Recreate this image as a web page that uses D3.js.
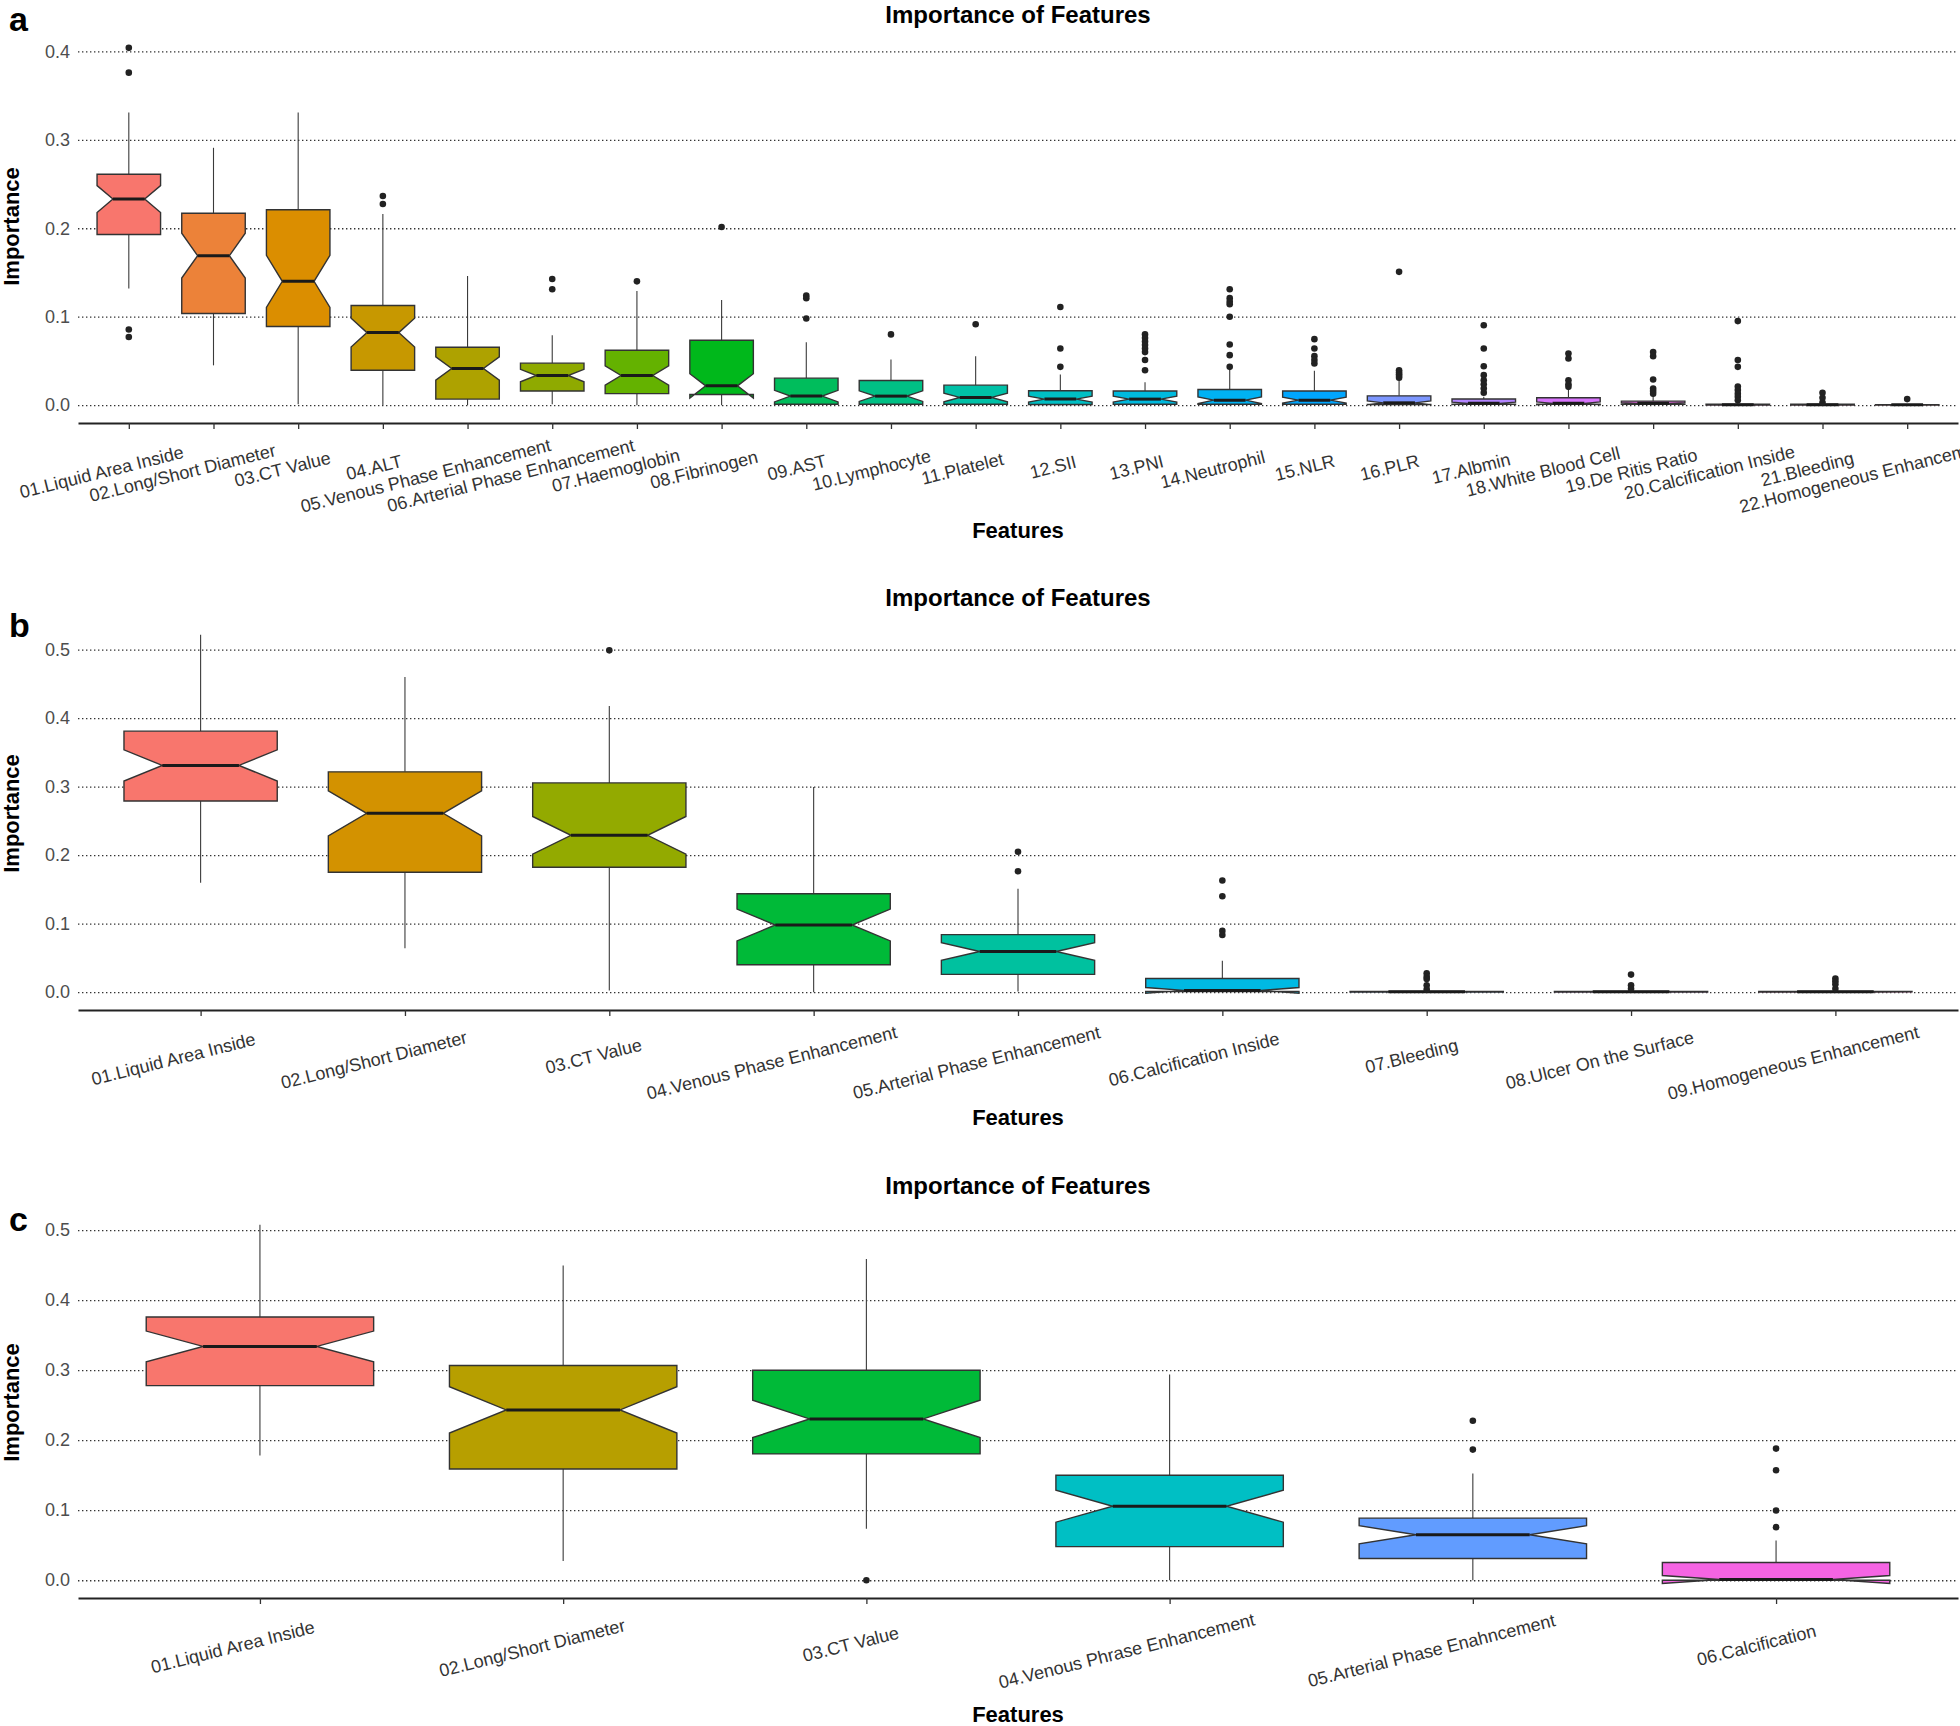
<!DOCTYPE html>
<html>
<head>
<meta charset="utf-8">
<script src="https://cdn.jsdelivr.net/npm/d3@7"></script>
<style>
  html, body { margin: 0; padding: 0; background: #fff; }
  svg { display: block; }
</style>
</head>
<body>
<script>
// ---------------- DATA ----------------
const titleText = "Importance of Features";
const yTitle = "Importance";
const xTitle = "Features";
const panelLetters = ["a", "b", "c"];
const runsPerPanel = [50, 50, 50];   // number of resampling runs (used for notch width)

// Panel a
const featuresA = ["01.Liquid Area Inside","02.Long/Short Diameter","03.CT Value","04.ALT",
  "05.Venous Phase Enhancement","06.Arterial Phase Enhancement","07.Haemoglobin","08.Fibrinogen",
  "09.AST","10.Lymphocyte","11.Platelet","12.SII","13.PNI","14.Neutrophil","15.NLR","16.PLR",
  "17.Albmin","18.White Blood Cell","19.De Ritis Ratio","20.Calcification Inside","21.Bleeding",
  "22.Homogeneous Enhancement"];
const lowA  = [0.132,0.045,0.001,0.000,0.000,0.001,0.000,0.000,0.000,0.000,0.000,0.000,0.000,0.000,0.000,0.000,0.000,0.000,0.000,0.000,0.000,0.000];
const q1A   = [0.193,0.1036,0.089,0.0395,0.0068,0.016,0.013,0.012,0.001,0.001,0.001,0.0008,0.001,0.001,0.001,0.0008,0.001,0.001,0.001,0.000,0.000,0.000];
const medA  = [0.233,0.169,0.140,0.082,0.0414,0.0335,0.0335,0.0218,0.0102,0.0102,0.0087,0.0068,0.0068,0.0056,0.0056,0.0026,0.002,0.002,0.002,0.0005,0.0005,0.0004];
const q3A   = [0.261,0.217,0.221,0.1126,0.0655,0.0475,0.062,0.0734,0.0305,0.0279,0.0226,0.0162,0.016,0.0177,0.016,0.0105,0.007,0.0083,0.0045,0.001,0.001,0.0006];
const highA = [0.331,0.291,0.331,0.216,0.146,0.079,0.129,0.119,0.071,0.0516,0.0554,0.0347,0.026,0.041,0.0388,0.028,0.0094,0.0196,0.011,0.002,0.001,0.001];
const outA  = [
  [0.404,0.376,0.0855,0.077], [], [], [0.2365,0.2275], [], [0.1427,0.131], [0.140], [0.2015],
  [0.124,0.121,0.098], [0.080], [0.0915], [0.111,0.064,0.0433],
  [0.080,0.076,0.072,0.068,0.064,0.060,0.051,0.0395],
  [0.131,0.121,0.117,0.114,0.100,0.0685,0.0565,0.0433],
  [0.0746,0.064,0.0554,0.051,0.047],
  [0.1507,0.0395,0.037,0.035,0.033,0.031],
  [0.0904,0.064,0.044,0.0339,0.028,0.0237,0.0188,0.014],
  [0.0584,0.0527,0.028,0.0237,0.0207],
  [0.060,0.0554,0.029,0.0188,0.016,0.013],
  [0.095,0.051,0.0433,0.021,0.017,0.013,0.0094,0.0056],
  [0.014,0.0083,0.003],
  [0.0068]
];
const ticksA = [0.0, 0.1, 0.2, 0.3, 0.4];

// Panel b
const featuresB = ["01.Liquid Area Inside","02.Long/Short Diameter","03.CT Value",
  "04.Venous Phase Enhancement","05.Arterial Phase Enhancement","06.Calcification Inside",
  "07.Bleeding","08.Ulcer On the Surface","09.Homogeneous Enhancement"];
const lowB  = [0.1598,0.064,0.0025,0.000,0.001,0.000,0.000,0.000,0.000];
const q1B   = [0.279,0.175,0.1824,0.040,0.026,0.001,0.000,0.000,0.000];
const medB  = [0.331,0.261,0.229,0.098,0.0593,0.0025,0.0005,0.0005,0.0005];
const q3B   = [0.381,0.3216,0.3055,0.1437,0.0839,0.020,0.001,0.001,0.001];
const highB = [0.5216,0.460,0.4176,0.2995,0.151,0.0457,0.001,0.001,0.001];
const outB  = [[], [], [0.499], [], [0.205,0.1764], [0.163,0.140,0.0894,0.0834],
  [0.0276,0.0226,0.019,0.010,0.004], [0.0256,0.010,0.005], [0.020,0.016,0.0116,0.005]];
const ticksB = [0.0, 0.1, 0.2, 0.3, 0.4, 0.5];

// Panel c
const featuresC = ["01.Liquid Area Inside","02.Long/Short Diameter","03.CT Value",
  "04.Venous Phrase Enhancement","05.Arterial Phase Enahncement","06.Calcification"];
const lowC  = [0.178,0.0273,0.0737,0.000,0.000,0.000];
const q1C   = [0.278,0.1588,0.1804,0.048,0.031,0.000];
const medC  = [0.334,0.2433,0.2304,0.1057,0.065,0.001];
const q3C   = [0.376,0.3067,0.300,0.150,0.0887,0.0253];
const highC = [0.5077,0.4495,0.4588,0.2938,0.1526,0.0567];
const outC  = [[], [], [0.000], [], [0.2278,0.1866], [0.188,0.157,0.0995,0.0758]];
const ticksC = [0.0, 0.1, 0.2, 0.3, 0.4, 0.5];

// ---------------- HELPERS ----------------
// R's hcl() (polar CIE-Luv) -> sRGB hex, as used by ggplot2's hue palette
function hclLuv(h, c, l) {
  const hr = h * Math.PI / 180;
  const U = c * Math.cos(hr), V = c * Math.sin(hr);
  const Xn = 95.047, Yn = 100.0, Zn = 108.883;
  const den = Xn + 15 * Yn + 3 * Zn;
  const un = 4 * Xn / den, vn = 9 * Yn / den;
  const Y = l > 8 ? Yn * Math.pow((l + 16) / 116, 3) : Yn * l / 903.2963;
  const u = U / (13 * l) + un, v = V / (13 * l) + vn;
  const X = 9.0 * Y * u / (4 * v);
  const Z = -X / 3 - 5 * Y + 3 * Y / v;
  const x = X / 100, y = Y / 100, z = Z / 100;
  const lin = [
    3.240479 * x - 1.537150 * y - 0.498535 * z,
   -0.969256 * x + 1.875992 * y + 0.041556 * z,
    0.055648 * x - 0.204043 * y + 1.057311 * z
  ];
  const gam = t => t > 0.00304 ? 1.055 * Math.pow(t, 1 / 2.4) - 0.055 : 12.92 * t;
  const rgb = lin.map(t => Math.round(Math.max(0, Math.min(1, gam(t))) * 255));
  return d3.rgb(rgb[0], rgb[1], rgb[2]).formatHex();
}
function huePal(n) {
  return d3.range(n).map(i => hclLuv(15 + i * 360 / n, 100, 65));
}

// ---------------- LAYOUT ----------------
const W = 1960, H = 1726;
const FONT = "'Liberation Sans', Arial, Helvetica, sans-serif";
const plotLeft = 78, plotRight = 1958;

const panels = [
  { features: featuresA, lo: lowA, q1: q1A, med: medA, q3: q3A, hi: highA, out: outA, ticks: ticksA,
    top: 30, bottom: 423, titleY: 23, xTitleY: 538, letterY: 31 },
  { features: featuresB, lo: lowB, q1: q1B, med: medB, q3: q3B, hi: highB, out: outB, ticks: ticksB,
    top: 617, bottom: 1010, titleY: 606, xTitleY: 1125, letterY: 637 },
  { features: featuresC, lo: lowC, q1: q1C, med: medC, q3: q3C, hi: highC, out: outC, ticks: ticksC,
    top: 1207, bottom: 1598, titleY: 1194, xTitleY: 1722, letterY: 1231 }
];

const svg = d3.select("body").append("svg")
  .attr("width", W).attr("height", H)
  .attr("font-family", FONT);
svg.append("rect").attr("width", W).attr("height", H).attr("fill", "#fff");

panels.forEach((p, pi) => {
  const n = p.features.length;
  const colors = huePal(n);
  const g = svg.append("g");

  // y extent like ggplot (data range + 5% expansion)
  const allVals = [].concat(p.lo, p.hi, ...p.out);
  const mn = d3.min(allVals), mx = d3.max(allVals);
  const pad = (mx - mn) * 0.05;
  const y = d3.scaleLinear().domain([mn - pad, mx + pad]).range([p.bottom, p.top]);
  const x = d3.scalePoint().domain(p.features).range([plotLeft, plotRight]).padding(0.6);
  const step = x.step();
  const bw = step * 0.75;

  // y axis with dotted gridlines
  const gy = g.append("g").attr("transform", `translate(${plotLeft},0)`)
    .call(d3.axisLeft(y).tickValues(p.ticks).tickFormat(d3.format(".1f"))
      .tickSize(-(plotRight - plotLeft)).tickPadding(8));
  gy.attr("font-family", FONT).attr("font-size", 18);
  gy.select(".domain").remove();
  gy.selectAll(".tick line").attr("stroke", "#333").attr("stroke-width", 1.3)
    .attr("stroke-dasharray", "1.4,2.6");
  gy.selectAll(".tick text").attr("fill", "#4d4d4d");

  // x axis
  const gx = g.append("g").attr("transform", `translate(0,${p.bottom})`)
    .call(d3.axisBottom(x).tickSize(6).tickSizeOuter(0).tickPadding(0));
  gx.attr("font-family", FONT).attr("font-size", 18);
  gx.select(".domain").attr("stroke", "#222").attr("stroke-width", 2);
  gx.selectAll(".tick line").attr("stroke", "#333").attr("stroke-width", 1.3);
  gx.selectAll(".tick text")
    .attr("fill", "#333").attr("text-anchor", "start").attr("y", 0).attr("dy", "0.35em")
    .each(function () {
      const len = this.getComputedTextLength();
      d3.select(this).attr("x", -0.67 * len).attr("transform", "translate(0,42) rotate(-14)");
    });

  // boxes
  const nRun = runsPerPanel[pi];
  p.features.forEach((f, i) => {
    const cx = x(f);
    const x0 = cx - bw / 2, x1 = cx + bw / 2;
    const q1 = p.q1[i], q3 = p.q3[i], md = p.med[i];
    const half = 1.58 * (q3 - q1) / Math.sqrt(nRun);
    const nu = md + half, nl = md - half;
    const ind = bw * 0.25;

    // whiskers
    g.append("line").attr("x1", cx).attr("x2", cx).attr("y1", y(q3)).attr("y2", y(p.hi[i]))
      .attr("stroke", "#3a3a3a").attr("stroke-width", 1.1);
    g.append("line").attr("x1", cx).attr("x2", cx).attr("y1", y(q1)).attr("y2", y(p.lo[i]))
      .attr("stroke", "#3a3a3a").attr("stroke-width", 1.1);

    // notched box
    const pts = [
      [x0, y(q3)], [x0, y(nu)], [x0 + ind, y(md)], [x0, y(nl)], [x0, y(q1)],
      [x1, y(q1)], [x1, y(nl)], [x1 - ind, y(md)], [x1, y(nu)], [x1, y(q3)]
    ];
    g.append("path").attr("d", d3.line()(pts) + "Z")
      .attr("fill", colors[i]).attr("stroke", "#333").attr("stroke-width", 1.4)
      .attr("stroke-linejoin", "miter");
    // median
    g.append("line").attr("x1", x0 + ind).attr("x2", x1 - ind).attr("y1", y(md)).attr("y2", y(md))
      .attr("stroke", "#1a1a1a").attr("stroke-width", 3);

    // outliers
    p.out[i].forEach(v => {
      g.append("circle").attr("cx", cx).attr("cy", y(v)).attr("r", 3.3).attr("fill", "#222");
    });
  });

  // titles
  g.append("text").attr("x", (plotLeft + plotRight) / 2).attr("y", p.titleY)
    .attr("text-anchor", "middle").attr("font-weight", "bold").attr("font-size", 24)
    .attr("fill", "#000").text(titleText);
  g.append("text").attr("x", (plotLeft + plotRight) / 2).attr("y", p.xTitleY)
    .attr("text-anchor", "middle").attr("font-weight", "bold").attr("font-size", 22)
    .attr("fill", "#000").text(xTitle);
  g.append("text")
    .attr("transform", `translate(19,${(p.top + p.bottom) / 2}) rotate(-90)`)
    .attr("text-anchor", "middle").attr("font-weight", "bold").attr("font-size", 22)
    .attr("fill", "#000").text(yTitle);
  g.append("text").attr("x", 9).attr("y", p.letterY)
    .attr("font-weight", "bold").attr("font-size", 34).attr("fill", "#000")
    .text(panelLetters[pi]);
});
</script>
</body>
</html>
